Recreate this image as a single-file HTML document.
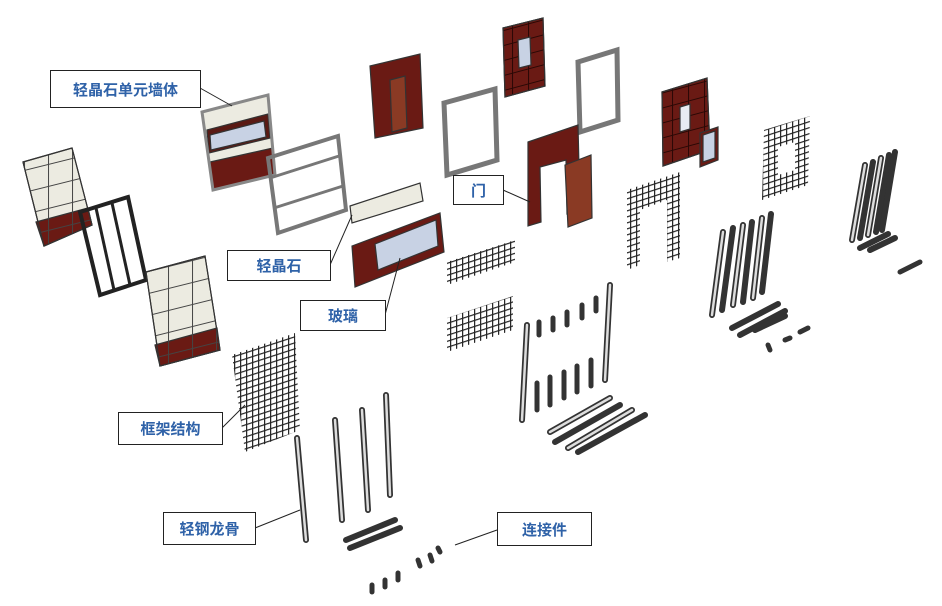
<!DOCTYPE html>
<html><head><meta charset="utf-8"><style>
html,body{margin:0;padding:0;background:#fff;}
.lb{position:absolute;border:1px solid #222;background:#fff;color:#2f62a8;font:bold 15px "Liberation Sans","Noto Sans CJK SC",sans-serif;display:flex;align-items:center;justify-content:center;box-sizing:border-box;}
</style></head><body>
<div style="position:relative;width:942px;height:606px;overflow:hidden">
<svg width="942" height="606" style="position:absolute;left:0;top:0">
<defs>
<pattern id="g" width="6" height="6" patternUnits="userSpaceOnUse" patternTransform="skewY(-18)">
<rect width="6" height="6" fill="none"/><path d="M0 0.5H6M0.5 0V6" stroke="#222" stroke-width="1.4"/></pattern>
<pattern id="t" width="24" height="22" patternUnits="userSpaceOnUse" patternTransform="skewY(-14)">
<path d="M0 0.5H24M0.5 0V22" stroke="#444" stroke-width="1"/></pattern>
<pattern id="m" width="16" height="15" patternUnits="userSpaceOnUse" patternTransform="skewY(-15)">
<path d="M0 0.5H16M0.5 0V15" stroke="#2a0805" stroke-width="1"/></pattern>
</defs>
<g stroke="#333" stroke-width="1.2">
<!-- left cream panel -->
<polygon points="23,162 72,148 92,225 44,246" fill="#ecebe1"/>
<polygon points="36,222 88,208 92,225 44,246" fill="#6a1a14"/>
<polygon points="23,162 72,148 92,225 44,246" fill="url(#t)"/>
<!-- black frame -->
<polygon points="80,212 128,197 146,280 100,295" fill="none" stroke="#222" stroke-width="4"/>
<line x1="96" y1="208" x2="114" y2="290" stroke="#222" stroke-width="3"/>
<line x1="112" y1="203" x2="130" y2="285" stroke="#222" stroke-width="3"/>
<!-- cream panel 2 -->
<polygon points="146,272 205,256 220,350 160,366" fill="#ecebe1"/>
<polygon points="155,345 217,328 220,350 160,366" fill="#6a1a14"/>
<polygon points="146,272 205,256 220,350 160,366" fill="url(#t)"/>
<!-- unit wall -->
<polygon points="202,112 268,95 275,175 213,190" fill="#ecebe1"/>
<polygon points="207,130 268,114 270,138 209,153" fill="#5a1a14"/>
<polygon points="210,135 264,121 266,137 211,150" fill="#c8d2e4"/>
<polygon points="210,162 273,148 275,175 213,190" fill="#6a1a14"/>
<polygon points="202,112 268,95 275,175 213,190" fill="none" stroke="#888" stroke-width="3"/>
<!-- frame -->
<polygon points="268,158 338,136 346,210 278,233" fill="none" stroke="#777" stroke-width="4"/>
<line x1="270" y1="178" x2="339" y2="156" stroke="#777" stroke-width="3"/>
<line x1="274" y1="208" x2="343" y2="186" stroke="#777" stroke-width="3"/>
<!-- stone strip -->
<polygon points="350,206 420,183 423,201 352,223" fill="#ecebe1"/>
<!-- glass window -->
<polygon points="352,246 440,213 444,252 355,287" fill="#6a1a14"/>
<polygon points="375,244 436,220 438,246 378,270" fill="#c8d2e4"/>
<!-- doors top -->
<polygon points="370,66 420,54 423,128 375,138" fill="#6a1a14"/>
<polygon points="390,80 405,76 407,128 392,132" fill="#8a3a24"/>
<polygon points="503,28 543,18 545,86 505,97" fill="#6a1a14"/>
<polygon points="503,28 543,18 545,86 505,97" fill="url(#m)"/>
<polygon points="518,40 530,37 531,65 519,68" fill="#c8d2e4"/>
<polygon points="444,103 495,89 497,160 447,175" fill="none" stroke="#777" stroke-width="5"/>
<polygon points="578,62 617,50 618,120 580,132" fill="none" stroke="#777" stroke-width="5"/>
<polygon points="528,142 578,125 580,210 567,214 566,160 540,167 541,222 528,226" fill="#6a1a14"/>
<polygon points="565,165 591,155 592,218 568,227" fill="#8a3a24"/>
<polygon points="662,92 707,78 710,150 663,166" fill="#6a1a14"/>
<polygon points="662,92 707,78 710,150 663,166" fill="url(#m)"/>
<polygon points="680,107 690,104 690,129 680,132" fill="#e8ecf2"/>
<polygon points="700,133 718,127 718,160 700,167" fill="#6a1a14"/>
<polygon points="703,135 715,131 715,158 703,162" fill="#c8d2e4"/>
</g>
<!-- meshes -->
<polygon points="447,262 515,240 515,262 447,285" fill="url(#g)"/>
<polygon points="447,318 513,296 513,330 447,352" fill="url(#g)"/>
<polygon points="627,190 680,172 680,258 667,262 667,200 640,210 640,265 627,270" fill="url(#g)"/>
<polygon points="764,130 810,116 808,185 762,200" fill="url(#g)"/>
<polygon points="778,147 795,142 795,170 778,175" fill="#fff"/>
<polygon points="232,355 295,333 300,430 245,452" fill="url(#g)"/>
<!-- studs -->
<g stroke-linecap="round">
<g stroke="#333" stroke-width="6">
<line x1="297" y1="438" x2="306" y2="540"/><line x1="335" y1="420" x2="342" y2="520"/><line x1="362" y1="410" x2="368" y2="510"/><line x1="386" y1="395" x2="390" y2="495"/>
<line x1="527" y1="325" x2="522" y2="420"/><line x1="610" y1="285" x2="605" y2="380"/>
<line x1="723" y1="232" x2="712" y2="315"/><line x1="733" y1="228" x2="722" y2="310"/><line x1="743" y1="225" x2="733" y2="305"/><line x1="752" y1="222" x2="743" y2="302"/><line x1="762" y1="218" x2="753" y2="298"/><line x1="771" y1="214" x2="762" y2="292"/>
<line x1="865" y1="165" x2="852" y2="240"/><line x1="873" y1="162" x2="860" y2="238"/><line x1="881" y1="158" x2="868" y2="235"/><line x1="889" y1="155" x2="876" y2="232"/><line x1="895" y1="152" x2="882" y2="230"/>
<line x1="550" y1="432" x2="610" y2="398"/><line x1="555" y1="442" x2="620" y2="405"/><line x1="568" y1="448" x2="632" y2="410"/><line x1="578" y1="452" x2="645" y2="415"/>
<line x1="732" y1="328" x2="778" y2="304"/><line x1="740" y1="335" x2="785" y2="311"/><line x1="755" y1="330" x2="785" y2="316"/>
<line x1="346" y1="540" x2="395" y2="520"/><line x1="350" y1="548" x2="400" y2="528"/>
<line x1="860" y1="248" x2="888" y2="234"/><line x1="870" y1="250" x2="895" y2="238"/>
</g>
<g stroke="#ddd" stroke-width="2.5">
<line x1="297" y1="438" x2="306" y2="540"/><line x1="335" y1="420" x2="342" y2="520"/><line x1="362" y1="410" x2="368" y2="510"/><line x1="386" y1="395" x2="390" y2="495"/>
<line x1="527" y1="325" x2="522" y2="420"/><line x1="610" y1="285" x2="605" y2="380"/>
<line x1="723" y1="232" x2="712" y2="315"/><line x1="743" y1="225" x2="733" y2="305"/><line x1="762" y1="218" x2="753" y2="298"/>
<line x1="865" y1="165" x2="852" y2="240"/><line x1="881" y1="158" x2="868" y2="235"/>
<line x1="550" y1="432" x2="610" y2="398"/><line x1="568" y1="448" x2="632" y2="410"/>
</g>
<g stroke="#333" stroke-width="5">
<line x1="539" y1="322" x2="539" y2="335"/><line x1="553" y1="318" x2="553" y2="330"/><line x1="567" y1="312" x2="567" y2="325"/><line x1="582" y1="305" x2="582" y2="318"/><line x1="596" y1="298" x2="596" y2="311"/>
<line x1="537" y1="383" x2="537" y2="410"/><line x1="550" y1="377" x2="550" y2="405"/><line x1="564" y1="372" x2="564" y2="398"/><line x1="577" y1="366" x2="577" y2="392"/><line x1="591" y1="360" x2="591" y2="386"/>
<line x1="372" y1="585" x2="372" y2="592"/><line x1="385" y1="580" x2="385" y2="587"/><line x1="398" y1="573" x2="398" y2="580"/><line x1="418" y1="560" x2="420" y2="566"/><line x1="430" y1="555" x2="432" y2="561"/><line x1="438" y1="548" x2="440" y2="552"/>
<line x1="768" y1="345" x2="770" y2="350"/><line x1="785" y1="340" x2="790" y2="338"/><line x1="800" y1="332" x2="808" y2="328"/>
<line x1="900" y1="272" x2="920" y2="262"/>
</g>
</g>
<!-- leader lines -->
<g stroke="#222" stroke-width="1">
<line x1="200" y1="88" x2="232" y2="106"/>
<line x1="330" y1="265" x2="352" y2="215"/>
<line x1="385" y1="315" x2="400" y2="258"/>
<line x1="503" y1="190" x2="530" y2="202"/>
<line x1="222" y1="428" x2="245" y2="405"/>
<line x1="255" y1="528" x2="300" y2="510"/>
<line x1="455" y1="545" x2="497" y2="530"/>
</g>
</svg>
<div class="lb" style="left:50px;top:70px;width:151px;height:38px">轻晶石单元墙体</div>
<div class="lb" style="left:453px;top:175px;width:51px;height:30px">门</div>
<div class="lb" style="left:227px;top:250px;width:104px;height:31px">轻晶石</div>
<div class="lb" style="left:300px;top:300px;width:86px;height:31px">玻璃</div>
<div class="lb" style="left:118px;top:412px;width:105px;height:33px">框架结构</div>
<div class="lb" style="left:163px;top:512px;width:93px;height:33px">轻钢龙骨</div>
<div class="lb" style="left:497px;top:512px;width:95px;height:34px">连接件</div>
</div>
</body></html>
